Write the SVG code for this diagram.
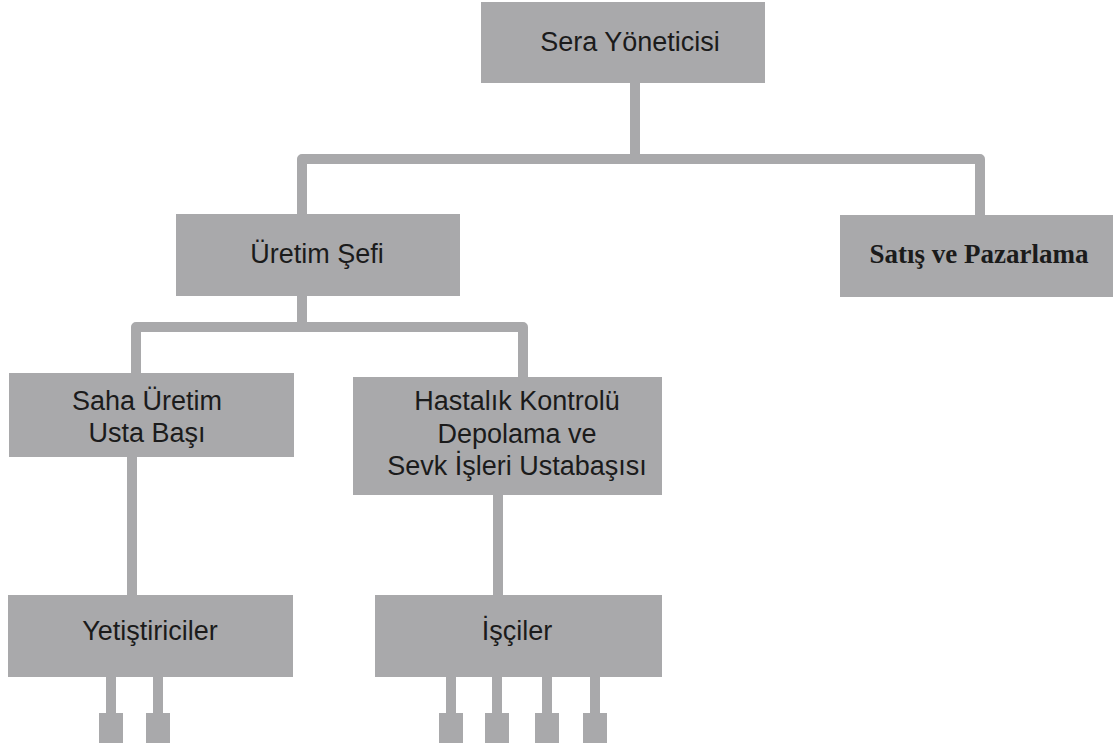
<svg xmlns="http://www.w3.org/2000/svg" width="1115" height="751" viewBox="0 0 1115 751">
<style>
.box{fill:#a9a9ab;}
.t{font-family:"Liberation Sans",Arial,sans-serif;font-size:27px;fill:#1b1b1b;text-anchor:middle;}
.ts{font-family:"Liberation Serif","Times New Roman",serif;font-size:27px;font-weight:bold;fill:#1b1b1b;text-anchor:middle;}
.c{fill:none;stroke:#a9a9ab;stroke-width:10;stroke-linejoin:round;}
.leg{fill:#a9a9ab;}
</style>
<rect width="1115" height="751" fill="#ffffff"/>
<g id="connectors">
<path class="c" d="M635,83 V159"/>
<path class="c" d="M302,214 V159 H980 V215"/>
<path class="c" d="M302,296 V327"/>
<path class="c" d="M136,373 V327 H523 V377"/>
<path class="c" d="M132,457 V595"/>
<path class="c" d="M498,495 V595"/>
<path class="c" d="M111,677 V714 M158,677 V714"/>
<path class="c" d="M451,677 V714 M497,677 V714 M547,677 V714 M595,677 V714"/>
<rect class="leg" x="99" y="713" width="24" height="30"/>
<rect class="leg" x="146" y="713" width="24" height="30"/>
<rect class="leg" x="439" y="713" width="24" height="30"/>
<rect class="leg" x="485" y="713" width="24" height="30"/>
<rect class="leg" x="535" y="713" width="24" height="30"/>
<rect class="leg" x="583" y="713" width="24" height="30"/>
</g>
<g id="sera">
<rect class="box" x="481" y="2" width="284" height="81"/>
<text class="t" x="630" y="51">Sera Yöneticisi</text>
</g>
<g id="uretim">
<rect class="box" x="176" y="214" width="284" height="82"/>
<text class="t" x="317" y="263">Üretim Şefi</text>
</g>
<g id="satis">
<rect class="box" x="840" y="215" width="273" height="82"/>
<text class="ts" x="979" y="263">Satış ve Pazarlama</text>
</g>
<g id="saha">
<rect class="box" x="9" y="373" width="285" height="84"/>
<text class="t" x="147" y="410">Saha Üretim</text>
<text class="t" x="147" y="442">Usta Başı</text>
</g>
<g id="hastalik">
<rect class="box" x="353" y="377" width="309" height="118"/>
<text class="t" x="517" y="410">Hastalık Kontrolü</text>
<text class="t" x="517" y="443">Depolama ve</text>
<text class="t" x="517" y="475">Sevk İşleri Ustabaşısı</text>
</g>
<g id="yetistiriciler">
<rect class="box" x="8" y="595" width="285" height="82"/>
<text class="t" x="150" y="640">Yetiştiriciler</text>
</g>
<g id="isciler">
<rect class="box" x="375" y="595" width="287" height="82"/>
<text class="t" x="517" y="640">İşçiler</text>
</g>
</svg>
